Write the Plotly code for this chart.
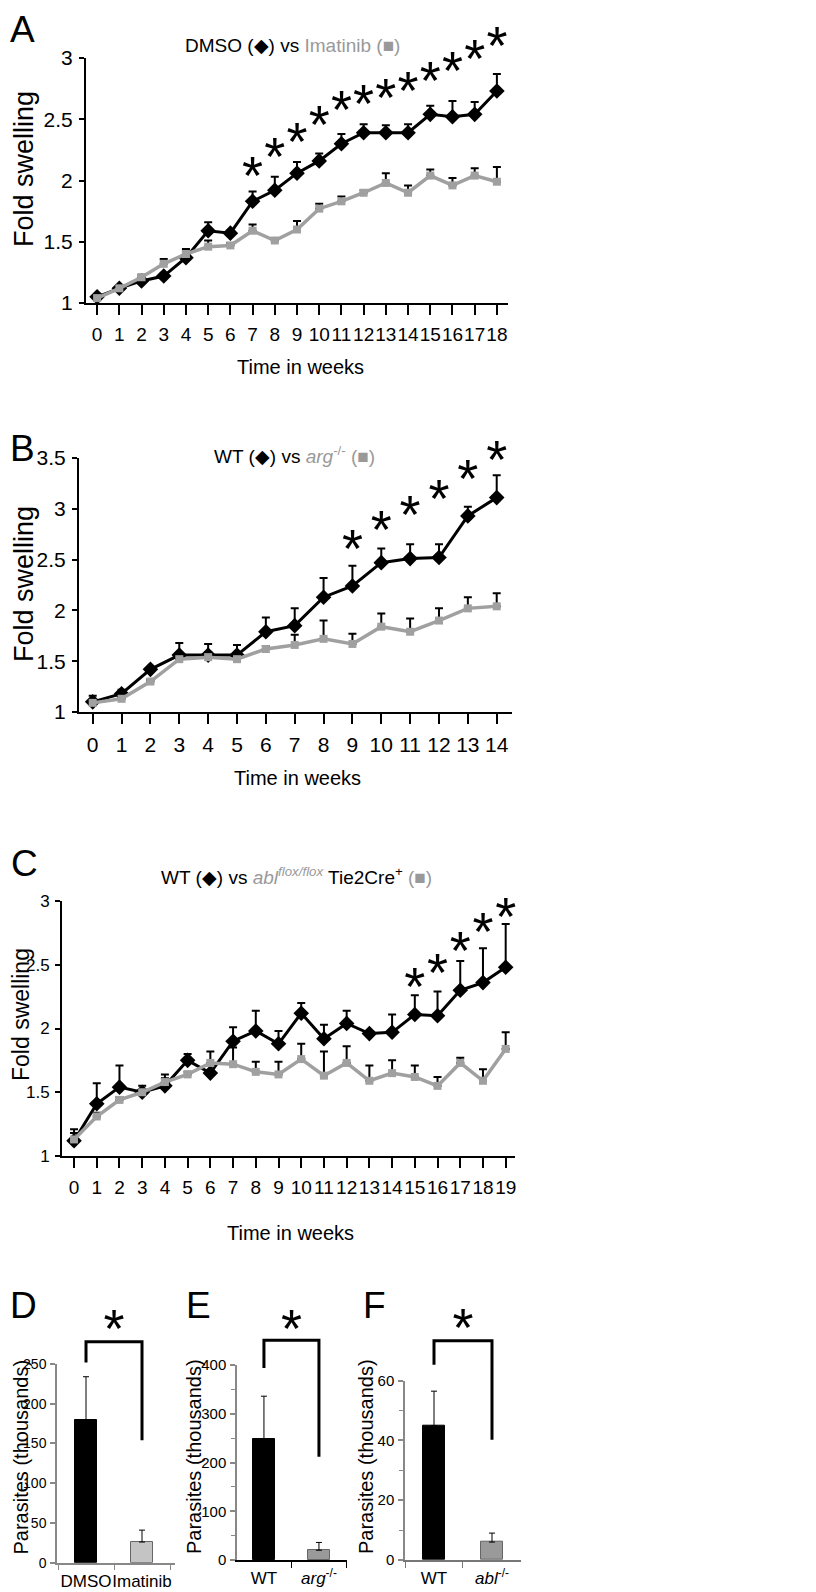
import plotly.graph_objects as go

# Page geometry: the browser body has an 8px margin, so the figure is 808x1584
PAGE_W, PAGE_H = 816, 1592
OFF = 8
W, H = PAGE_W - OFF, PAGE_H - OFF
FONT = "Liberation Sans, Arial, Helvetica, sans-serif"
GRAY = "#a0a0a0"
STAR_SIZE = 54
STAR_LIFT_PX = 15  # the asterisk glyph sits this far above its text anchor

# ---------------- Data ----------------
# Panel A: DMSO vs Imatinib
weeks_a = list(range(19))
dmso = [1.05, 1.12, 1.18, 1.22, 1.37, 1.59, 1.57, 1.83, 1.92, 2.06, 2.16, 2.30, 2.39, 2.39, 2.39, 2.54, 2.52, 2.54, 2.73]
dmso_err = [0.02, 0.02, 0.02, 0.02, 0.07, 0.07, 0.02, 0.08, 0.11, 0.09, 0.06, 0.08, 0.07, 0.06, 0.07, 0.07, 0.13, 0.10, 0.14]
imatinib = [1.04, 1.12, 1.21, 1.32, 1.40, 1.46, 1.47, 1.59, 1.51, 1.60, 1.77, 1.83, 1.90, 1.98, 1.90, 2.04, 1.96, 2.04, 1.99]
imatinib_err = [0.02, 0.02, 0.02, 0.04, 0.02, 0.05, 0.02, 0.05, 0.02, 0.07, 0.04, 0.04, 0.02, 0.08, 0.06, 0.05, 0.06, 0.06, 0.12]
stars_a_weeks = [7, 8, 9, 10, 11, 12, 13, 14, 15, 16, 17, 18]
stars_a_y = [2.12, 2.28, 2.40, 2.54, 2.66, 2.71, 2.76, 2.82, 2.90, 2.98, 3.08, 3.18]

# Panel B: WT vs arg-/-
weeks_b = list(range(15))
wt_b = [1.10, 1.18, 1.42, 1.56, 1.56, 1.56, 1.79, 1.85, 2.13, 2.24, 2.47, 2.51, 2.52, 2.93, 3.11]
wt_b_err = [0.06, 0.04, 0.02, 0.12, 0.11, 0.10, 0.14, 0.17, 0.19, 0.20, 0.14, 0.14, 0.13, 0.09, 0.22]
arg_b = [1.09, 1.13, 1.30, 1.52, 1.54, 1.52, 1.62, 1.66, 1.72, 1.67, 1.84, 1.79, 1.90, 2.02, 2.04]
arg_b_err = [0.02, 0.02, 0.02, 0.02, 0.05, 0.02, 0.03, 0.10, 0.18, 0.10, 0.13, 0.13, 0.12, 0.11, 0.13]
stars_b_weeks = [9, 10, 11, 12, 13, 14]
stars_b_y = [2.71, 2.89, 3.04, 3.20, 3.40, 3.58]

# Panel C: WT vs abl flox/flox Tie2Cre+
weeks_c = list(range(20))
wt_c = [1.12, 1.41, 1.54, 1.50, 1.55, 1.75, 1.65, 1.90, 1.98, 1.88, 2.12, 1.92, 2.04, 1.96, 1.97, 2.11, 2.10, 2.30, 2.36, 2.48]
wt_c_err = [0.09, 0.16, 0.17, 0.05, 0.09, 0.05, 0.02, 0.11, 0.16, 0.10, 0.08, 0.11, 0.10, 0.02, 0.14, 0.15, 0.19, 0.23, 0.27, 0.34]
abl_c = [1.13, 1.31, 1.44, 1.50, 1.58, 1.64, 1.73, 1.72, 1.66, 1.64, 1.76, 1.63, 1.73, 1.59, 1.65, 1.62, 1.55, 1.73, 1.59, 1.84]
abl_c_err = [0.05, 0.03, 0.02, 0.02, 0.03, 0.02, 0.09, 0.13, 0.08, 0.10, 0.12, 0.19, 0.13, 0.12, 0.10, 0.09, 0.07, 0.04, 0.09, 0.13]
stars_c_weeks = [15, 16, 17, 18, 19]
stars_c_y = [2.41, 2.52, 2.69, 2.84, 2.96]

# Panels D-F: parasites (thousands)
cats_d = ["DMSO", "Imatinib"]
vals_d = [179, 26]
errs_d = [55, 15]
cats_e = ["WT", "<i>arg</i><sup>-/-</sup>"]
vals_e = [248, 20]
errs_e = [88, 16]
cats_f = ["WT", "<i>abl</i><sup>-/-</sup>"]
vals_f = [45, 6]
errs_f = [11.5, 3]
# significance brackets: [left arm bottom, top, right arm bottom], star height
bracket_d = [252, 278, 154]
star_d = 307
bracket_e = [394, 451, 212]
star_e = 496
bracket_f = [65.3, 73.4, 40.2]
star_f = 81

# ---------------- Helpers (page pixels -> paper fractions) ----------------
def px(x):
    return (x - OFF) / W

def py(y):
    return 1 - (y - OFF) / H

def dx(a, b):
    return [px(a), px(b)]

def dy(top, bot):
    return [py(bot), py(top)]

def yover(top_px, bot_px, ax_top_px, vmin, vmax, anchor):
    """Invisible axis with the same scale as a visible one, reaching higher on the page."""
    scale = (bot_px - ax_top_px) / (vmax - vmin)
    ax = dict(domain=dy(top_px, bot_px), range=[vmin, vmin + (bot_px - top_px) / scale],
              anchor=anchor, visible=False, automargin=False, fixedrange=True)
    return ax, scale

fig = go.Figure()

def star_trace(xs, ys, scale, xa, yo):
    shift = STAR_LIFT_PX / scale
    return go.Scatter(
        x=xs, y=[v - shift for v in ys], mode="text", text=["*"] * len(xs),
        xaxis=xa, yaxis=yo, textfont=dict(family=FONT, size=STAR_SIZE, color="black"),
        cliponaxis=False, showlegend=False, hoverinfo="skip")

def line_panel(n, over, scale, weeks, black, black_err, gray, gray_err, sw, sy):
    xa = "x" if n == 1 else f"x{n}"
    ya = "y" if n == 1 else f"y{n}"
    fig.add_trace(go.Scatter(
        x=weeks, y=black, mode="lines+markers", xaxis=xa, yaxis=ya,
        line=dict(color="black", width=3),
        marker=dict(symbol="diamond", size=12, color="black"),
        error_y=dict(type="data", array=black_err, arrayminus=[0] * len(black_err),
                     symmetric=False, color="black", thickness=2, width=4),
        cliponaxis=False, showlegend=False))
    fig.add_trace(go.Scatter(
        x=weeks, y=gray, mode="lines+markers", xaxis=xa, yaxis=ya,
        line=dict(color=GRAY, width=3.5),
        marker=dict(symbol="square", size=8, color=GRAY),
        error_y=dict(type="data", array=gray_err, arrayminus=[0] * len(gray_err),
                     symmetric=False, color="black", thickness=2, width=4),
        cliponaxis=False, showlegend=False))
    fig.add_trace(star_trace(sw, sy, scale, xa, f"y{over}"))

def bar_panel(n, over, scale, vals, errs, colors, bracket, star):
    xa, ya, yo = f"x{n}", f"y{n}", f"y{over}"
    fig.add_trace(go.Bar(
        x=[0, 1], y=vals, xaxis=xa, yaxis=ya, width=0.39,
        marker=dict(color=colors, line=dict(color=["black", "#666666"], width=1)),
        error_y=dict(type="data", array=errs, arrayminus=[0, 0], symmetric=False,
                     color="black", thickness=1, width=3),
        showlegend=False))
    fig.add_trace(go.Scatter(
        x=[0, 0, 1, 1], y=[bracket[0], bracket[1], bracket[1], bracket[2]],
        mode="lines", line=dict(color="black", width=3), xaxis=xa, yaxis=yo,
        cliponaxis=False, showlegend=False))
    fig.add_trace(star_trace([0.5], [star], scale, xa, yo))

# invisible overlay axes (for stars / brackets above the plotted range)
y10, s10 = yover(12, 303, 58, 1, 3, "x")
y11, s11 = yover(410, 712, 458, 1, 3.5, "x2")
y12, s12 = yover(850, 1156, 901, 1, 3, "x3")
y7, s7 = yover(1285, 1562.7, 1364, 0, 250, "x4")
y8, s8 = yover(1285, 1560, 1365, 0, 400, "x5")
y9, s9 = yover(1285, 1560, 1380.7, 0, 60, "x6")

line_panel(1, 10, s10, weeks_a, dmso, dmso_err, imatinib, imatinib_err, stars_a_weeks, stars_a_y)
line_panel(2, 11, s11, weeks_b, wt_b, wt_b_err, arg_b, arg_b_err, stars_b_weeks, stars_b_y)
line_panel(3, 12, s12, weeks_c, wt_c, wt_c_err, abl_c, abl_c_err, stars_c_weeks, stars_c_y)
bar_panel(4, 7, s7, vals_d, errs_d, ["black", "#c4c4c4"], bracket_d, star_d)
bar_panel(5, 8, s8, vals_e, errs_e, ["black", "#9a9a9a"], bracket_e, star_e)
bar_panel(6, 9, s9, vals_f, errs_f, ["black", "#9a9a9a"], bracket_f, star_f)

def xline(domain, rng, n_weeks, anchor, size):
    return dict(domain=domain, range=rng, anchor=anchor, automargin=False,
                showgrid=False, zeroline=False,
                showline=True, linecolor="black", linewidth=2,
                ticks="outside", ticklen=10, tickwidth=2, tickcolor="black",
                tickmode="array", tickvals=list(range(n_weeks)),
                ticktext=[str(i) for i in range(n_weeks)], tickangle=0,
                tickfont=dict(family=FONT, size=size, color="black"), ticklabelstandoff=3)

def yline(domain, rng, vals, anchor, size=21):
    return dict(domain=domain, range=rng, anchor=anchor, automargin=False,
                showgrid=False, zeroline=False,
                showline=True, linecolor="black", linewidth=2,
                ticks="outside", ticklen=5, tickwidth=2, tickcolor="black",
                tickmode="array", tickvals=vals, ticktext=[f"{v:g}" for v in vals],
                tickfont=dict(family=FONT, size=size, color="black"), ticklabelstandoff=2)

def xbar(domain, rng, cats, anchor, color, lw):
    return dict(domain=domain, range=rng, anchor=anchor, automargin=False,
                showgrid=False, zeroline=False,
                showline=True, linecolor=color, linewidth=lw,
                tickmode="array", tickvals=[0, 1], ticktext=cats, ticks="", tickangle=0,
                tickfont=dict(family=FONT, size=17, color="black"), ticklabelstandoff=2,
                minor=dict(tickmode="array", tickvals=[-0.5, 0.5, 1.5], ticks="outside",
                           ticklen=6, tickcolor=color, tickwidth=1))

def ybar(domain, rng, dtick, minor, anchor, color, size=15):
    d = dict(domain=domain, range=rng, anchor=anchor, automargin=False,
             showgrid=False, zeroline=False,
             showline=True, linecolor=color, linewidth=1.5,
             tickmode="linear", tick0=0, dtick=dtick, ticks="outside", ticklen=5,
             tickcolor=color, tickwidth=1.5, ticklabelstandoff=1,
             tickfont=dict(family=FONT, size=size, color="black"))
    if minor:
        d["minor"] = dict(dtick=minor, ticks="outside", ticklen=4, tickcolor=color, tickwidth=1)
    return d

fig.update_layout(
    template="none",
    width=W, height=H, margin=dict(l=0, r=0, t=0, b=0, pad=0),
    paper_bgcolor="white", plot_bgcolor="rgba(0,0,0,0)",
    font=dict(family=FONT, color="black"),
    showlegend=False, bargap=0,
    xaxis=xline(dx(86, 508), [-0.5, 18.5], 19, "y", 19),
    yaxis=yline(dy(58, 303), [1, 3], [1, 1.5, 2, 2.5, 3], "x"),
    xaxis2=xline(dx(79, 512), [-0.475, 14.53], 15, "y2", 21),
    yaxis2=yline(dy(458, 712), [1, 3.5], [1, 1.5, 2, 2.5, 3, 3.5], "x2"),
    xaxis3=xline(dx(62, 515), [-0.53, 19.41], 20, "y3", 19),
    yaxis3=yline(dy(901, 1156), [1, 3], [1, 1.5, 2, 2.5, 3], "x3", 17),
    xaxis4=xbar(dx(57, 175), [-0.518, 1.589], cats_d, "y4", "#888888", 1.5),
    yaxis4=ybar(dy(1364, 1562.7), [0, 250], 50, None, "x4", "#888888", 14),
    xaxis5=xbar(dx(237, 347), [-0.49, 1.51], cats_e, "y5", "black", 2),
    yaxis5=ybar(dy(1365, 1560), [0, 400], 100, 50, "x5", "#888888"),
    xaxis6=xbar(dx(405, 520.7), [-0.5, 1.495], cats_f, "y6", "#777777", 1.5),
    yaxis6=ybar(dy(1380.7, 1560), [0, 60], 20, 10, "x6", "#888888"),
    yaxis7=y7, yaxis8=y8, yaxis9=y9,
    yaxis10=y10, yaxis11=y11, yaxis12=y12,
)

ann = []
def text(x, y, s, size, angle=0, color="black", xanchor="center"):
    ann.append(dict(x=px(x), y=py(y), xref="paper", yref="paper", text=s, showarrow=False,
                    xanchor=xanchor, yanchor="middle", textangle=angle,
                    font=dict(family=FONT, size=size, color=color)))

# panel letters (left-anchored at their left edges)
text(8, 30, "A", 37, xanchor="left")
text(8, 448, "B", 37, xanchor="left")
text(9, 863, "C", 37, xanchor="left")
text(8, 1305, "D", 37, xanchor="left")
text(184, 1305, "E", 37, xanchor="left")
text(361, 1305, "F", 37, xanchor="left")

# titles
text(292, 45, "DMSO (◆) vs <span style='color:#999999'>Imatinib (■)</span>", 19)
text(294, 455, "WT (◆) vs <span style='color:#999999'><i>arg</i><sup>-/-</sup> (■)</span>", 19)
text(296, 876, "WT (◆) vs <span style='color:#999999'><i>abl<sup>flox/flox</sup></i></span> Tie2Cre<sup>+</sup> <span style='color:#999999'>(■)</span>", 19)

# axis titles
text(300, 367, "Time in weeks", 20)
text(297, 778, "Time in weeks", 20)
text(290, 1233, "Time in weeks", 20)
text(24, 169, "Fold swelling", 27, -90)
text(24, 584, "Fold swelling", 27, -90)
text(21, 1015, "Fold swelling", 23, -90)
text(20.5, 1457, "Parasites (thousands)", 20, -90)
text(194, 1457, "Parasites (thousands)", 20, -90)
text(366, 1457, "Parasites (thousands)", 20, -90)

fig.update_layout(annotations=ann)
fig.write_html("out.html")
